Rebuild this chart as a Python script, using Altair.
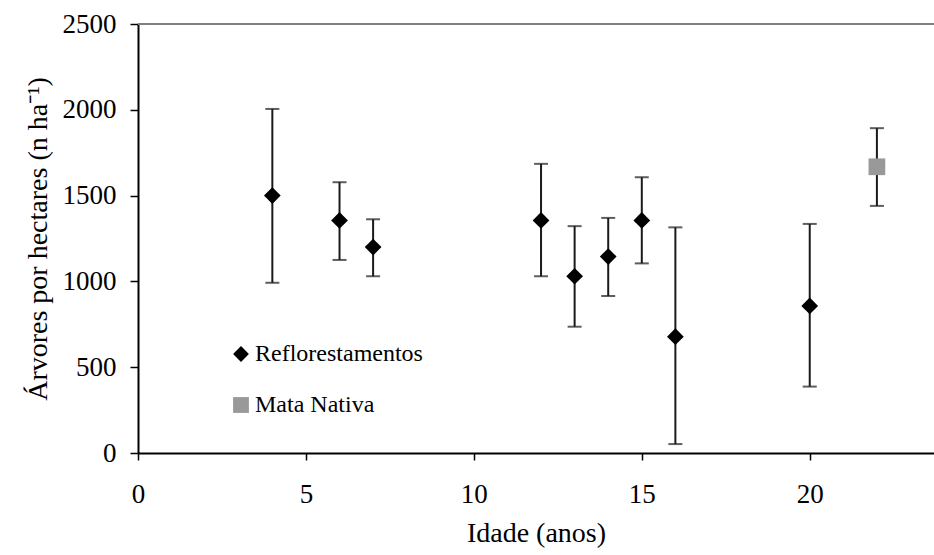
import altair as alt
import pandas as pd

idade = [4, 6, 7, 12, 13, 14, 15, 16, 20, 22]
media = [1500, 1355, 1200, 1355, 1030, 1145, 1355, 678, 857, 1668]
superior = [2005, 1578, 1362, 1685, 1322, 1370, 1607, 1315, 1335, 1893]
inferior = [992, 1125, 1030, 1030, 736, 915, 1105, 52, 387, 1440]
tipo = ["Reflorestamentos"] * 9 + ["Mata Nativa"]

categorias = ["Reflorestamentos", "Mata Nativa"]
formas = ["diamond", "square"]
cores = ["#000000", "#999999"]

x_ticks = [0, 5, 10, 15, 20]
y_ticks = [0, 500, 1000, 1500, 2000, 2500]

df = pd.DataFrame({
    "idade": idade, "media": media, "sup": superior, "inf": inferior, "tipo": tipo
})

FONT = "Liberation Serif"

xenc = alt.X(
    "idade:Q",
    scale=alt.Scale(domain=[0, 23.7], nice=False, zero=False),
    axis=alt.Axis(
        values=x_ticks, title="Idade (anos)", grid=False, format="d",
        domainColor="black", domainWidth=2, tickColor="black", tickWidth=1.5,
        tickSize=7, labelPadding=21, labelFontSize=27, titleFontSize=28,
        titlePadding=12, labelFont=FONT, titleFont=FONT, labelColor="black",
        titleColor="black", titleFontWeight="normal", labelFlush=False,
    ),
)
yscale = alt.Scale(domain=[0, 2500], nice=False)
yaxis = alt.Axis(
    values=y_ticks, title="Árvores por hectares  (n  ha⁻¹)", grid=False, format="d",
    domainColor="black", domainWidth=2, tickColor="black", tickWidth=1.5,
    tickSize=8, labelPadding=14, labelFontSize=27, titleFontSize=28,
    titlePadding=10, labelFont=FONT, titleFont=FONT, labelColor="black",
    titleColor="black", titleFontWeight="normal", labelFlush=False,
)

base = alt.Chart(df)

topline = base.mark_rule(color="#808080", strokeWidth=2).encode(
    y=alt.datum(2500, scale=yscale, axis=yaxis)
)

err = base.mark_rule(color="#1a1a1a", strokeWidth=2).encode(
    x=xenc,
    y=alt.Y("inf:Q", scale=yscale, axis=yaxis),
    y2="sup:Q",
)
cap_lo = base.mark_tick(color="#1a1a1a", orient="horizontal", size=14, thickness=2).encode(
    x="idade:Q", y="inf:Q"
)
cap_hi = base.mark_tick(color="#1a1a1a", orient="horizontal", size=14, thickness=2).encode(
    x="idade:Q", y="sup:Q"
)

leg = alt.Legend(title=None, orient="none", legendX=91, legendY=318,
                 labelFontSize=24, labelFont=FONT, labelColor="black", labelLimit=0,
                 symbolSize=250, rowPadding=27, labelOffset=2,
                 padding=0, symbolStrokeWidth=0)

pts = base.mark_point(filled=True, opacity=1, size=280).encode(
    x="idade:Q",
    y="media:Q",
    shape=alt.Shape("tipo:N", scale=alt.Scale(domain=categorias, range=formas), legend=leg),
    color=alt.Color("tipo:N", scale=alt.Scale(domain=categorias, range=cores), legend=leg),
)

chart = alt.layer(topline, err, cap_lo, cap_hi, pts).properties(
    width=796, height=429,
    autosize=alt.AutoSizeParams(type="none"),
    padding={"left": 138, "top": 24, "right": 0, "bottom": 102},
    background="white",
).configure_view(stroke=None)

chart.save("out.html", embed_options={"renderer": "svg", "actions": False})
